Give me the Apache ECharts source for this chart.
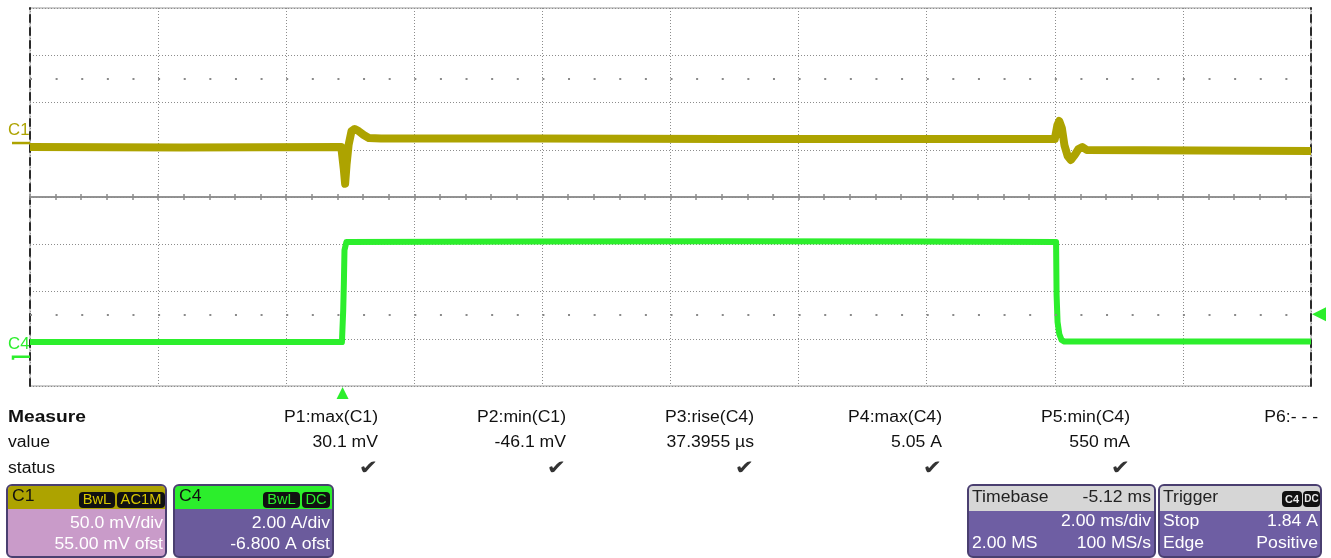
<!DOCTYPE html>
<html>
<head>
<meta charset="utf-8">
<script src="https://cdn.jsdelivr.net/npm/echarts@6/dist/echarts.min.js"></script>
<style>
  html, body { margin: 0; padding: 0; background: #fff; }
  #scope { width: 1331px; height: 558px; }
</style>
</head>
<body>
<div id="scope"></div>
<script>
// 通道设置
const timePerDiv = 2;      // ms/div
const timeDelay = -5.12;   // ms
const c1Scale = 50;        // mV/div
const c1Offset = 55;       // mV
const c4Scale = 2;         // A/div
const c4Offset = -6.8;     // A
const trigLevel = 1.84;    // A

// C1 波形 (ms, mV)
const c1Time = [-4.88, -2.5, -0.02, 0.02, 0.04, 0.062, 0.094, 0.14, 0.19, 0.25, 0.33, 0.41, 0.6, 3, 6, 9, 11.12, 11.16, 11.19, 11.23, 11.27, 11.32, 11.37, 11.43, 11.49, 11.55, 11.62, 15.12];
const c1Mv = [-2.1, -2.5, -2.1, -26, -41, -21, 0, 14.8, 17, 14.8, 10.6, 7.4, 6.8, 6.8, 6.5, 6.3, 6.3, 21, 25.4, 18, 0, -11.6, -15.8, -10.6, -4.2, -2.1, -5.3, -6.3];

// C4 波形 (ms, A)
const c4Time = [-4.88, -0.01, 0.01, 0.02, 0.03, 0.06, 3, 6, 9, 11.14, 11.148, 11.163, 11.19, 11.225, 11.27, 15.12];
const c4Amp = [0.66, 0.66, 2.0, 3.1, 4.55, 4.9, 4.92, 4.93, 4.92, 4.9, 2.65, 1.51, 1.0, 0.75, 0.68, 0.68];

// 测量表
const measureNames = ['P1:max(C1)', 'P2:min(C1)', 'P3:rise(C4)', 'P4:max(C4)', 'P5:min(C4)', 'P6:- - -'];
const measureValues = ['30.1 mV', '-46.1 mV', '37.3955 µs', '5.05 A', '550 mA', ''];
const measureOk = [true, true, true, true, true, false];

const dotRows = [2.5, -2.5]; // div

const C1_COLOR = '#ada300';
const C4_COLOR = '#2cee2c';
const GRID_COLOR = '#8c8c8c';
const FONT = '"Liberation Sans", Arial, sans-serif';

const tCenter = -timeDelay;
const tMin = tCenter - 5 * timePerDiv;
const tMax = tCenter + 5 * timePerDiv;

const zip = (a, b) => a.map((v, i) => [v, b[i]]);

const chart = echarts.init(document.getElementById('scope'));

const divTick = { show: true, length: 3, lineStyle: { color: GRID_COLOR, width: 1.5 } };

chart.setOption({
  animation: false,
  backgroundColor: '#fff',
  grid: { left: 30, top: 8, width: 1281, height: 378, show: true, borderColor: '#9a9a9a', borderWidth: 1 },
  xAxis: [
    {
      type: 'value', min: 0, max: 10, interval: 1, position: 'bottom',
      axisLine: { show: true, onZero: true, onZeroAxisIndex: 0, lineStyle: { color: GRID_COLOR, width: 1.5 } },
      axisTick: divTick,
      minorTick: { show: true, splitNumber: 5, length: 3, lineStyle: { color: GRID_COLOR, width: 1.5 } },
      axisLabel: { show: false },
      splitLine: { show: true, lineStyle: { color: GRID_COLOR, width: 1, type: [1, 2] } }
    },
    {
      type: 'value', min: 0, max: 10, interval: 1, position: 'top',
      axisLine: { show: true, onZero: true, onZeroAxisIndex: 0, lineStyle: { color: GRID_COLOR, width: 1.5 } },
      axisTick: divTick,
      minorTick: { show: true, splitNumber: 5, length: 3, lineStyle: { color: GRID_COLOR, width: 1.5 } },
      axisLabel: { show: false },
      splitLine: { show: false }
    },
    { type: 'value', min: tMin, max: tMax, show: false }
  ],
  yAxis: [
    {
      type: 'value', min: -4, max: 4, interval: 1, position: 'left',
      axisLine: { show: true, onZero: false, lineStyle: { color: '#2a2a2a', width: 2, type: [7, 6] } },
      axisTick: { show: false }, axisLabel: { show: false },
      splitLine: { show: true, lineStyle: { color: GRID_COLOR, width: 1, type: [1, 2] } }
    },
    { type: 'value', min: -4 * c1Scale - c1Offset, max: 4 * c1Scale - c1Offset, show: false },
    { type: 'value', min: -4 * c4Scale - c4Offset, max: 4 * c4Scale - c4Offset, show: false },
    {
      type: 'value', min: -4, max: 4, interval: 1, position: 'right',
      axisLine: { show: true, onZero: false, lineStyle: { color: '#2a2a2a', width: 2, type: [7, 6] } },
      axisTick: { show: false }, axisLabel: { show: false }, splitLine: { show: false }
    }
  ],
  series: [
    {
      type: 'line', xAxisIndex: 0, yAxisIndex: 0, data: [], silent: true,
      markLine: {
        silent: true, symbol: ['none', 'none'], label: { show: false },
        lineStyle: { color: '#8a8a8a', width: 2, type: [2, 23.62] },
        data: dotRows.map(v => ({ yAxis: v }))
      }
    },
    {
      name: 'C1', type: 'line', xAxisIndex: 2, yAxisIndex: 1, showSymbol: false, silent: true,
      data: zip(c1Time, c1Mv),
      lineStyle: { color: C1_COLOR, width: 8, join: 'round' }, z: 3
    },
    {
      name: 'C4', type: 'line', xAxisIndex: 2, yAxisIndex: 2, showSymbol: false, silent: true,
      data: zip(c4Time, c4Amp),
      lineStyle: { color: C4_COLOR, width: 6, join: 'round' }, z: 4
    }
  ]
});

// 文字
function txt(s, x, y, o = {}) {
  return {
    type: 'text', x, y, scaleX: o.sx || 1.1, silent: true, z: 30,
    style: {
      text: s, x: 0, y: 0, fill: o.fill || '#111',
      font: (o.bold ? 'bold ' : '') + (o.size || 16) + 'px ' + (o.family || FONT),
      align: o.align || 'left', verticalAlign: 'middle',
      textAlign: o.align || 'left', textVerticalAlign: 'middle'
    }
  };
}
function box(x, y, w, h, fill, stroke, r, z) {
  return { type: 'rect', silent: true, z: z || 20, shape: { x, y, width: w, height: h, r }, style: { fill, stroke: stroke || null, lineWidth: stroke ? 2 : 0 } };
}

const g = [];

// 测量表
g.push(txt('Measure', 8, 418, { bold: true, size: 16, sx: 1.2 }));
g.push(txt('value', 8, 443));
g.push(txt('status', 8, 469));
measureNames.forEach((n, i) => {
  const xr = 378 + 188 * i;
  g.push(txt(n, xr, 418, { align: 'right' }));
  if (measureValues[i]) g.push(txt(measureValues[i], xr, 443, { align: 'right' }));
  if (measureOk[i]) g.push(txt('✔', xr, 469, { align: 'right', fill: '#333', family: '"DejaVu Sans", sans-serif', size: 20, sx: 1.15 }));
});

// 通道框
function channelBox(x, head, body, name, badges, badgeColor, lines) {
  const w = 159;
  g.push(box(x, 485, w, 72, body, '#4a3f70', 5, 20));
  g.push(box(x + 1, 486, w - 2, 23, head, null, [4, 4, 0, 0], 21));
  g.push(txt(name, x + 5, 497, { fill: '#111' }));
  badges.forEach(b => {
    g.push(box(b.x, 492, b.w, 16, '#111', null, 4, 22));
    g.push(txt(b.t, b.x + b.w / 2, 500.5, { align: 'center', fill: badgeColor, size: 14, sx: 1.05 }));
  });
  g.push(txt(lines[0], x + w - 3, 524, { align: 'right', fill: '#fff' }));
  g.push(txt(lines[1], x + w - 3, 545, { align: 'right', fill: '#fff' }));
}
channelBox(7, C1_COLOR, '#c99bc9', 'C1',
  [{ x: 79, w: 36, t: 'BwL' }, { x: 117, w: 48, t: 'AC1M' }], '#d8c800',
  [(c1Scale).toFixed(1) + ' mV/div', c1Offset.toFixed(2) + ' mV ofst']);
channelBox(174, C4_COLOR, '#6b5b9c', 'C4',
  [{ x: 263, w: 37, t: 'BwL' }, { x: 302, w: 28, t: 'DC' }], C4_COLOR,
  [c4Scale.toFixed(2) + ' A/div', c4Offset.toFixed(3) + ' A ofst']);

// Timebase
g.push(box(968, 485, 187, 72, '#6e5ea3', '#4a3f70', 5, 20));
g.push(box(969, 486, 185, 25, '#d6d6d6', null, [4, 4, 0, 0], 21));
g.push(txt('Timebase', 972, 498, { fill: '#222' }));
g.push(txt(timeDelay.toFixed(2) + ' ms', 1151, 498, { align: 'right', fill: '#222' }));
g.push(txt(timePerDiv.toFixed(2) + ' ms/div', 1151, 522, { align: 'right', fill: '#fff' }));
g.push(txt('2.00 MS', 972, 544, { fill: '#fff' }));
g.push(txt('100 MS/s', 1151, 544, { align: 'right', fill: '#fff' }));

// Trigger
g.push(box(1159, 485, 162, 72, '#6e5ea3', '#4a3f70', 5, 20));
g.push(box(1160, 486, 160, 25, '#d6d6d6', null, [4, 4, 0, 0], 21));
g.push(txt('Trigger', 1163, 498, { fill: '#222' }));
g.push(box(1282, 491, 20, 16, '#111', null, 4, 22));
g.push(txt('C4', 1292, 499.5, { align: 'center', fill: '#e8e8e8', size: 11, sx: 1, bold: true }));
g.push(box(1303, 491, 17, 16, '#111', null, 4, 22));
g.push(txt('DC', 1311.5, 499.5, { align: 'center', fill: '#e8e8e8', size: 10, sx: 1, bold: true }));
g.push(txt('Stop', 1163, 522, { fill: '#fff' }));
g.push(txt(trigLevel.toFixed(2) + ' A', 1318, 522, { align: 'right', fill: '#fff' }));
g.push(txt('Edge', 1163, 544, { fill: '#fff' }));
g.push(txt('Positive', 1318, 544, { align: 'right', fill: '#fff' }));

// 通道零位标记 / 触发标记
const c1Zero = chart.convertToPixel({ yAxisIndex: 1 }, 0);
const c4Zero = chart.convertToPixel({ yAxisIndex: 2 }, 0);
const trigY = chart.convertToPixel({ yAxisIndex: 2 }, trigLevel);
const trigX = chart.convertToPixel({ xAxisIndex: 2 }, 0);

g.push(txt('C1', 8, c1Zero - 14, { fill: C1_COLOR, size: 16, sx: 1.05 }));
g.push({ type: 'polyline', silent: true, z: 25, shape: { points: [[12, c1Zero - 2], [30, c1Zero - 2]] }, style: { stroke: C1_COLOR, lineWidth: 2.5 } });
g.push(txt('C4', 8, c4Zero - 13, { fill: C4_COLOR, size: 16, sx: 1.05 }));
g.push({ type: 'polyline', silent: true, z: 25, shape: { points: [[13, c4Zero + 2], [13, c4Zero - 1], [30, c4Zero - 1]] }, style: { stroke: C4_COLOR, lineWidth: 2.5 } });

g.push({ type: 'polygon', silent: true, z: 25, shape: { points: [[trigX, 387], [trigX - 6, 399], [trigX + 6, 399]] }, style: { fill: C4_COLOR } });
g.push({ type: 'polygon', silent: true, z: 25, shape: { points: [[1312, trigY], [1326, trigY - 7], [1326, trigY + 7]] }, style: { fill: C4_COLOR } });

chart.setOption({ graphic: g });
</script>
</body>
</html>
